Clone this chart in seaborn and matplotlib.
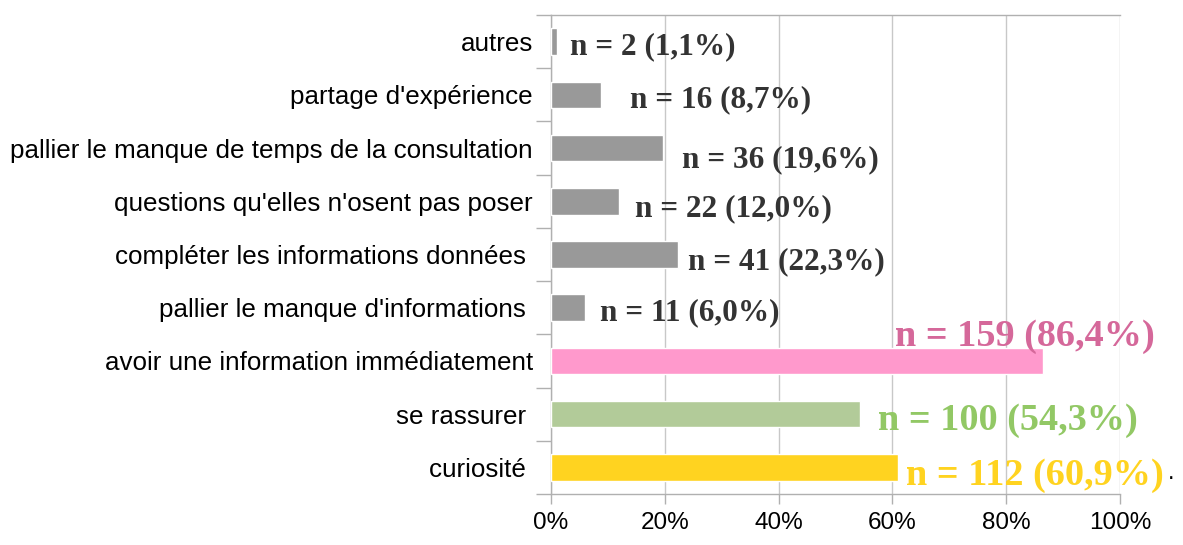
import numpy as np
import pandas as pd
from matplotlib import pyplot as plt
from matplotlib.ticker import FixedLocator
import seaborn as sns

categories = ["autres", "partage d'expérience",
              "pallier le manque de temps de la consultation",
              "questions qu'elles n'osent pas poser",
              "compléter les informations données ",
              "pallier le manque d'informations ",
              "avoir une information immédiatement",
              "se rassurer ", "curiosité "]
counts = [2, 16, 36, 22, 41, 11, 159, 100, 112]
percents = [1.1, 8.7, 19.6, 12.0, 22.3, 6.0, 86.4, 54.3, 60.9]

bar_colors = ["#999999"] * 6 + ["#FF99CC", "#B2CB99", "#FFD320"]
text_colors = ["#333333"] * 6 + ["#D5689A", "#92C865", "#FFD320"]
# manual label placement (offset from bar end, in % / category units)
label_dx = [2.2, 5.2, 3.4, 2.8, 1.8, 2.6, -25.9, 3.2, 1.5]
label_dy = [0.1, 0.1, 0.21, 0.14, 0.13, 0.1, -0.45, 0.11, 0.15]
label_size = [22.5] * 6 + [27.5] * 3

df = pd.DataFrame({"cat": categories, "pct": percents})

sns.set_style("white")
plt.rcParams['font.family'] = ['Liberation Sans', 'DejaVu Sans']

fig = plt.figure(figsize=(11.83, 5.45), dpi=100)
ax = fig.add_axes([551 / 1183, 1 - 494 / 545, (1120 - 551) / 1183, (494 - 15) / 545])

sns.barplot(data=df, x="pct", y="cat", hue="cat", palette=bar_colors,
            saturation=1, orient="h", width=0.5, legend=False, ax=ax, zorder=3)

ax.set_xlim(0, 100)
ax.set_ylim(len(categories) - 0.5, -0.5)
ax.set_xticks(np.arange(0, 101, 20))
ax.set_xticklabels([f"{v}%" for v in range(0, 101, 20)])
ax.xaxis.grid(True, color="#c8c8c8", linewidth=1, zorder=0)
ax.set_axisbelow(True)
ax.set_xlabel("")
ax.set_ylabel("")

# excel-like ticks at category boundaries
ax.yaxis.set_major_locator(FixedLocator(np.arange(len(categories))))
ax.set_yticklabels(categories)
ax.yaxis.set_minor_locator(FixedLocator(np.arange(-0.5, len(categories), 1)))
ax.tick_params(axis="y", which="major", length=0, pad=13, labelsize=18.7, labelcolor="#000000")
ax.tick_params(axis="y", which="minor", length=11, color="#b0b0b0", width=1, left=True)
ax.tick_params(axis="x", length=7, color="#b0b0b0", width=1, bottom=True, labelsize=17.5,
               pad=6, labelcolor="#000000")

for side in ["left", "bottom", "top"]:
    ax.spines[side].set_color("#b0b0b0")
    ax.spines[side].set_linewidth(1)
ax.spines["right"].set_visible(False)

for i, (n, p) in enumerate(zip(counts, percents)):
    txt = f"n = {n} ({p:.1f}%)".replace(".", ",")
    ax.text(p + label_dx[i], i + label_dy[i], txt, color=text_colors[i],
            fontsize=label_size[i], fontweight="bold", family="Liberation Serif",
            va="center", ha="left", zorder=4, clip_on=False)

# stray full stop after the last label
ax.text((1168 - 551) / 569, 8.1, ".", transform=ax.get_yaxis_transform(),
        fontsize=17, color="#000000", va="center", ha="left")

fig.savefig("out.png", dpi=100)
